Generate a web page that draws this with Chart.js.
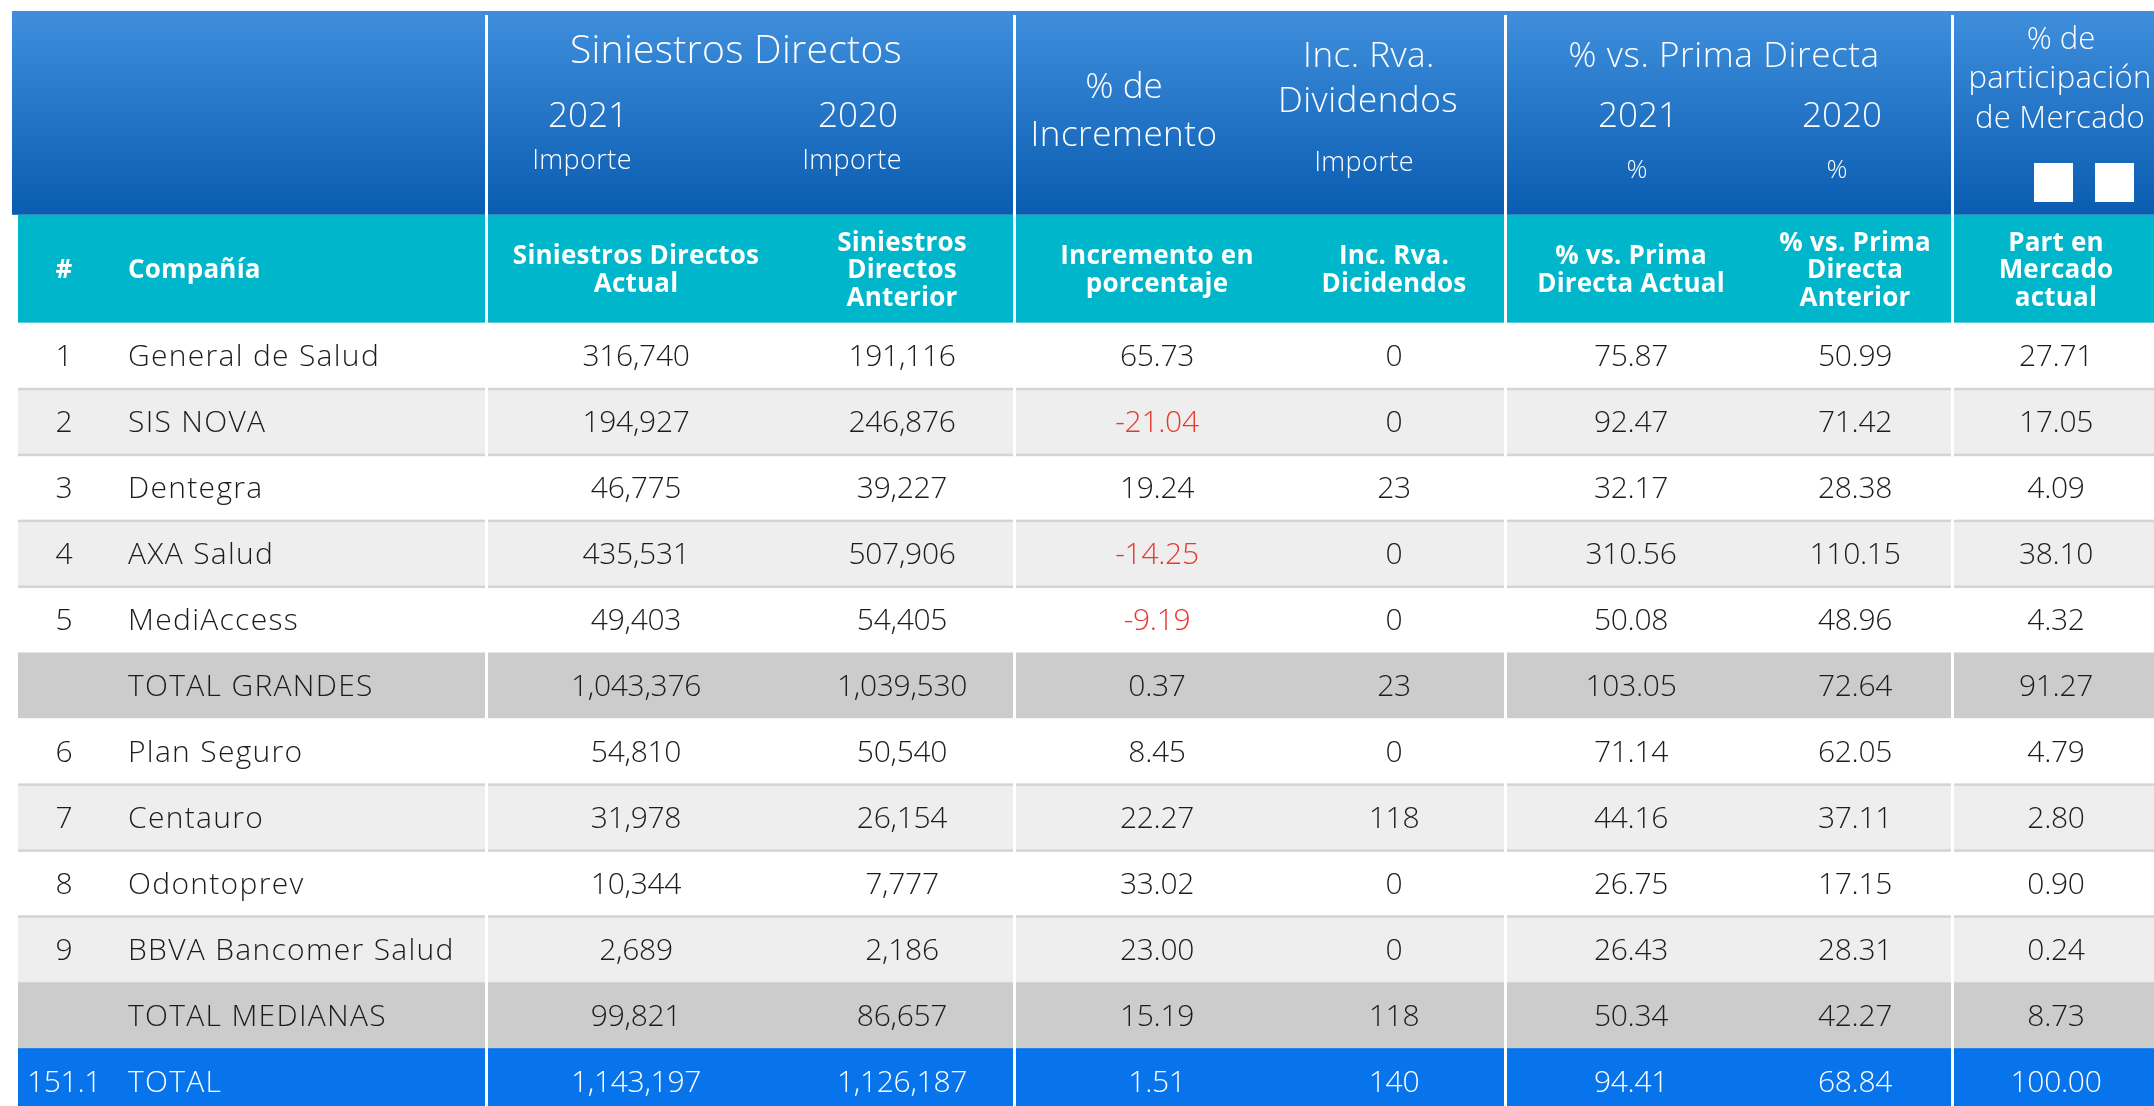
<!DOCTYPE html>
<html lang="es">
<head>
<meta charset="utf-8">
<title>Siniestros Directos</title>
<script src="https://cdn.jsdelivr.net/npm/chart.js@4.4.1/dist/chart.umd.min.js"></script>
<style>
  html, body { margin: 0; padding: 0; background: #fff; }
  canvas { display: block; }
</style>
</head>
<body>
<canvas id="tabla" width="2154" height="1106"></canvas>
<script>
'use strict'

// datos de la tabla, una posicion por fila
var ranks = ['1', '2', '3', '4', '5', '', '6', '7', '8', '9', '', '151.1'];
var companies = ['General de Salud', 'SIS NOVA', 'Dentegra', 'AXA Salud', 'MediAccess', 'TOTAL GRANDES',
  'Plan Seguro', 'Centauro', 'Odontoprev', 'BBVA Bancomer Salud', 'TOTAL MEDIANAS', 'TOTAL'];
var rowKinds = ['odd', 'even', 'odd', 'even', 'odd', 'sub', 'odd', 'even', 'odd', 'even', 'sub', 'total'];
var siniestrosActual = [316740, 194927, 46775, 435531, 49403, 1043376, 54810, 31978, 10344, 2689, 99821, 1143197];
var siniestrosAnterior = [191116, 246876, 39227, 507906, 54405, 1039530, 50540, 26154, 7777, 2186, 86657, 1126187];
var incremento = [65.73, -21.04, 19.24, -14.25, -9.19, 0.37, 8.45, 22.27, 33.02, 23.00, 15.19, 1.51];
var incRva = [0, 0, 23, 0, 0, 23, 0, 118, 0, 0, 118, 140];
var primaActual = [75.87, 92.47, 32.17, 310.56, 50.08, 103.05, 71.14, 44.16, 26.75, 26.43, 50.34, 94.41];
var primaAnterior = [50.99, 71.42, 28.38, 110.15, 48.96, 72.64, 62.05, 37.11, 17.15, 28.31, 42.27, 68.84];
var partMercado = [27.71, 17.05, 4.09, 38.10, 4.32, 91.27, 4.79, 2.80, 0.90, 0.24, 8.73, 100.00];

// encabezado azul (textos)
var groupTitles = ['Siniestros Directos', '% vs. Prima Directa'];
var yearLabels = ['2021', '2020'];
// encabezado turquesa, una entrada por columna
var subHeaders = [
  ['#'], ['Compañía'],
  ['Siniestros Directos', 'Actual'], ['Siniestros', 'Directos', 'Anterior'],
  ['Incremento en', 'porcentaje'], ['Inc. Rva.', 'Dicidendos'],
  ['% vs. Prima', 'Directa Actual'], ['% vs. Prima', 'Directa', 'Anterior'],
  ['Part en', 'Mercado', 'actual']
];

// layout: centros de columna (unidades del eje x) y separadores de grupo
var colX = [64, 128, 636, 902, 1157, 1394, 1631, 1855, 2056];
var groupEdges = [486.5, 1014.5, 1505.5, 1952.5];
var ROW_H = 65.94;
var HEAD_ROWS = 322.8 / ROW_H;   // alto de encabezados en filas

var fmtInt = new Intl.NumberFormat('en-US');
function fmt2(v) { return v.toFixed(2); }

var FONT = '"Open Sans", Lato, sans-serif';

function label(ctx, s, x, yc, size, weight, color, align, spacing) {
  ctx.font = weight + ' ' + size + 'px ' + FONT;
  ctx.letterSpacing = (spacing || 0) + 'px';
  ctx.fillStyle = color;
  ctx.textAlign = align || 'center';
  ctx.textBaseline = 'alphabetic';
  ctx.fillText(s, x, yc + size * 0.357);   // centra la altura de mayusculas
}

var tablePlugin = {
  id: 'tabla',
  afterDraw: function (chart) {
    var ctx = chart.ctx;
    var x = chart.scales.x, y = chart.scales.y;
    var W = chart.width;
    var px = function (v) { return x.getPixelForValue(v); };
    var top = y.getPixelForValue(-HEAD_ROWS);
    var tealTop = y.getPixelForValue(-108 / ROW_H);
    var bodyTop = y.getPixelForValue(0);
    var white = '#ffffff';

    ctx.save();

    // encabezado azul con degradado
    var g = ctx.createLinearGradient(0, top + 11, 0, tealTop);
    g.addColorStop(0, '#3f8fdd');
    g.addColorStop(1, '#0a5cb1');
    ctx.fillStyle = g;
    ctx.fillRect(px(12), top + 11, W, tealTop - top - 11);

    ctx.fillStyle = '#00b6ca';
    ctx.fillRect(px(18), tealTop, W, bodyTop - tealTop);

    // filas
    var bg = { odd: '#ffffff', even: '#eeeeee', sub: '#cccccc', total: '#0774ec' };
    companies.forEach(function (c, i) {
      var y0 = y.getPixelForValue(i), y1 = y.getPixelForValue(i + 1);
      ctx.fillStyle = bg[rowKinds[i]];
      ctx.fillRect(px(18), y0, W, y1 - y0);
      var prev = rowKinds[i - 1];
      if (i > 0 && (rowKinds[i] === 'odd' || rowKinds[i] === 'even') && (prev === 'odd' || prev === 'even')) {
        ctx.fillStyle = '#d4d4d4';
        ctx.fillRect(px(18), y0 - 1, W, 2.5);
      }
    });

    // separadores blancos de grupo
    ctx.fillStyle = white;
    groupEdges.forEach(function (e) {
      ctx.fillRect(px(e) - 1.5, top + 15, 3, chart.height);
    });

    // textos del encabezado azul
    var L = 300;
    label(ctx, groupTitles[0], px(736), top + 49, 39, L, white, 'center', 0.3);
    label(ctx, yearLabels[0], px(588), top + 115, 35, L, white);
    label(ctx, yearLabels[1], px(858), top + 115, 35, L, white);
    label(ctx, 'Importe', px(582), top + 159, 27, L, white, 'center', 0.4);
    label(ctx, 'Importe', px(852), top + 159, 27, L, white, 'center', 0.4);
    label(ctx, '% de', px(1124), top + 86, 35, L, white);
    label(ctx, 'Incremento', px(1124), top + 134, 35, L, white, 'center', 0.5);
    label(ctx, 'Inc. Rva.', px(1369), top + 55, 35, L, white, 'center', 0.5);
    label(ctx, 'Dividendos', px(1368), top + 100, 35, L, white, 'center', 0.5);
    label(ctx, 'Importe', px(1364), top + 161, 27, L, white, 'center', 0.4);
    label(ctx, groupTitles[1], px(1724), top + 55, 35, L, white, 'center', 0.6);
    label(ctx, yearLabels[0], px(1638), top + 115, 35, L, white);
    label(ctx, yearLabels[1], px(1842), top + 115, 35, L, white);
    label(ctx, '%', px(1637), top + 169, 26, L, white);
    label(ctx, '%', px(1837), top + 169, 26, L, white);
    label(ctx, '% de', px(2061), top + 38, 31, L, white);
    label(ctx, 'participación', px(2060), top + 77, 31, L, white, 'center', 0.3);
    label(ctx, 'de Mercado', px(2060), top + 117, 31, L, white, 'center', 0.3);
    ctx.fillRect(px(2034), top + 163, 39, 39);
    ctx.fillRect(px(2095), top + 163, 39, 39);

    // encabezado turquesa
    var hc = (tealTop + bodyTop) / 2;
    subHeaders.forEach(function (lines, k) {
      var n = lines.length, pitch = 27.5;
      lines.forEach(function (s, j) {
        label(ctx, s, px(colX[k]), hc + (j - (n - 1) / 2) * pitch, 26, 700, white, k === 1 ? 'left' : 'center', 0.2);
      });
    });

    // cuerpo
    companies.forEach(function (c, i) {
      var yc = (y.getPixelForValue(i) + y.getPixelForValue(i + 1)) / 2;
      var ink = rowKinds[i] === 'total' ? white : '#1c1c1c';
      var cells = [ranks[i], c, fmtInt.format(siniestrosActual[i]), fmtInt.format(siniestrosAnterior[i]),
        fmt2(incremento[i]), String(incRva[i]), fmt2(primaActual[i]), fmt2(primaAnterior[i]), fmt2(partMercado[i])];
      cells.forEach(function (s, k) {
        var color = (k === 4 && incremento[i] < 0) ? '#e8392f' : ink;
        label(ctx, s, px(colX[k]), yc, 30, 300, color, k === 1 ? 'left' : 'center', k === 1 ? 1.3 : -0.3);
      });
    });

    ctx.restore();
  }
};

new Chart(document.getElementById('tabla'), {
  type: 'scatter',
  data: { datasets: [{ data: [] }] },
  options: {
    responsive: false,
    animation: false,
    devicePixelRatio: 1,
    layout: { padding: 0 },
    plugins: { legend: { display: false }, tooltip: { enabled: false } },
    scales: {
      x: { type: 'linear', display: false, min: 0, max: 2154 },
      y: { type: 'linear', display: false, reverse: true, min: -HEAD_ROWS, max: (1106 / ROW_H) - HEAD_ROWS }
    }
  },
  plugins: [tablePlugin]
});
</script>
</body>
</html>
